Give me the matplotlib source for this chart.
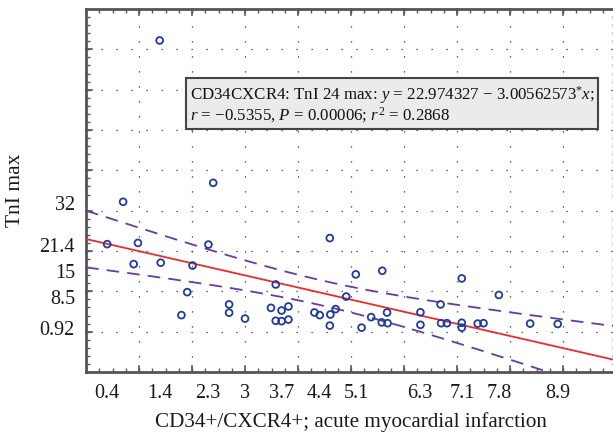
import numpy as np
import matplotlib
matplotlib.use("Agg")
import matplotlib.pyplot as plt
from matplotlib.ticker import MultipleLocator, FixedLocator

# ---- data ----
x_vals = [0.70, 0.40, 0.98, 2.31, 0.90, 1.41, 2.01, 1.91, 1.80, 2.70, 2.70, 3.00,
          1.39, 2.40,
          4.60, 3.58, 5.09, 5.59, 4.91, 3.49, 3.69, 3.82, 3.58, 3.69, 3.82, 4.31,
          4.41, 4.61, 4.71, 4.60, 5.20, 5.38, 5.58, 5.69, 5.68, 6.31, 6.31,
          7.09, 7.79, 6.69, 6.70, 6.81, 7.09, 7.09, 7.39, 7.50, 8.38, 8.90]
y_vals = [32.2, 21.7, 22.0, 21.6, 16.75, 17.1, 16.4, 9.8, 4.1, 6.75, 4.7, 3.25,
          72.2, 36.9,
          23.2, 11.7, 14.2, 15.1, 8.7, 5.9, 5.25, 6.25, 2.7, 2.6, 3.0, 4.75,
          4.1, 4.25, 5.6, 1.5, 1.0, 3.6, 2.3, 2.1, 4.75, 4.8, 1.7,
          13.2, 9.1, 6.75, 2.1, 2.1, 2.2, 1.0, 2.0, 2.1, 2.0, 1.9]

intercept = 22.974327
slope = -3.00562573

x_tick_vals = [0.4, 1.4, 2.3, 3, 3.7, 4.4, 5.1, 6.3, 7.1, 7.8, 8.9]
x_tick_labels = ["0.4", "1.4", "2.3", "3", "3.7", "4.4", "5.1", "6.3", "7.1", "7.8", "8.9"]
y_tick_vals = [0.92, 8.5, 15, 21.4, 32]
y_tick_labels = ["0.92", "8.5", "15", "21.4", "32"]

annot = ("CD34CXCR4: TnI 24 max: $y$ = 22.974327 \u2212 3.00562573$^{*}$$x$;\n"
         "$r$ = \u22120.5355, $P$ = 0.00006; $r^2$ = 0.2868")

# ---- figure ----
plt.rcParams['font.family'] = ['Liberation Serif', 'DejaVu Serif']
plt.rcParams['mathtext.fontset'] = 'custom'
plt.rcParams['mathtext.it'] = 'Liberation Serif:italic'
plt.rcParams['mathtext.rm'] = 'Liberation Serif'

fig = plt.figure(figsize=(6.13, 4.33), dpi=100)
W, H = 613, 433
ax = fig.add_axes([86 / W, 61 / H, 530 / W, 363 / H])
ax.set_xlim(0, 10)
ax.set_ylim(-10, 80)

x = np.array(x_vals)
y = np.array(y_vals)

# regression line and 95% confidence band
xs = np.linspace(0, 10, 300)
yhat = intercept + slope * xs
n = len(x)
res = y - (intercept + slope * x)
s = np.sqrt(np.sum(res ** 2) / (n - 2))
xbar = x.mean()
sxx = np.sum((x - xbar) ** 2)
tval = 2.013
hw = tval * s * np.sqrt(1.0 / n + (xs - xbar) ** 2 / sxx)

purple = '#6a3aa0'
ax.plot(xs, yhat + hw, color=purple, lw=1.3, dashes=(7, 4.5), zorder=3)
ax.plot(xs, yhat - hw, color=purple, lw=1.3, dashes=(7, 4.5), zorder=3)
ax.plot(xs, yhat, color='#ec2b2b', lw=1.3, zorder=4)

ax.scatter(x, y, s=24, facecolors='none', edgecolors='#1f3c9c', linewidths=1.3, zorder=5)

# grid (dotted)
for gx in range(1, 10):
    ax.axvline(gx, color='#333333', lw=0.9, ls=(0, (1, 11)), zorder=1)
for gy in range(0, 80, 10):
    ax.axhline(gy, color='#333333', lw=0.9, ls=(0, (1, 11)), zorder=1)

# ticks
ax.xaxis.set_major_locator(FixedLocator(x_tick_vals))
ax.set_xticklabels(x_tick_labels)
ax.yaxis.set_major_locator(FixedLocator(y_tick_vals))
ax.set_yticklabels(y_tick_labels)
ax.xaxis.set_minor_locator(MultipleLocator(0.25))
ax.yaxis.set_minor_locator(MultipleLocator(2))
ax.tick_params(axis='both', which='major', length=0, labelsize=14.5, colors='#1a1a1a')
ax.tick_params(axis='x', which='major', pad=9)
ax.tick_params(axis='y', which='major', pad=8)
ax.tick_params(axis='both', which='minor', direction='in', length=3, width=1,
               color='#555555', top=True, right=True)

# longer ticks at the grid positions
for gx in range(1, 10):
    ax.plot([gx, gx], [-10, -10 + 1.5], color='#555555', lw=1.2, zorder=2, clip_on=False)
    ax.plot([gx, gx], [80, 80 - 1.5], color='#555555', lw=1.2, zorder=2, clip_on=False)
for gy in range(0, 80, 10):
    ax.plot([0, 0.12], [gy, gy], color='#555555', lw=1.2, zorder=2, clip_on=False)

for sp in ax.spines.values():
    sp.set_color('#555555')
    sp.set_linewidth(2)

ax.set_xlabel("CD34+/CXCR4+; acute myocardial infarction", fontsize=15.2, labelpad=6, color='#1a1a1a')
ax.set_ylabel("TnI max", fontsize=15.5, labelpad=10, color='#1a1a1a')

ax.text(1.96, 56.3, annot, fontsize=12.2, va='center', ha='left', linespacing=1.0,
        color='#111111', zorder=6,
        bbox=dict(boxstyle='square,pad=0.22', facecolor='#ebebeb', edgecolor='#444444', linewidth=1.5))

fig.savefig("out.png", dpi=100)
